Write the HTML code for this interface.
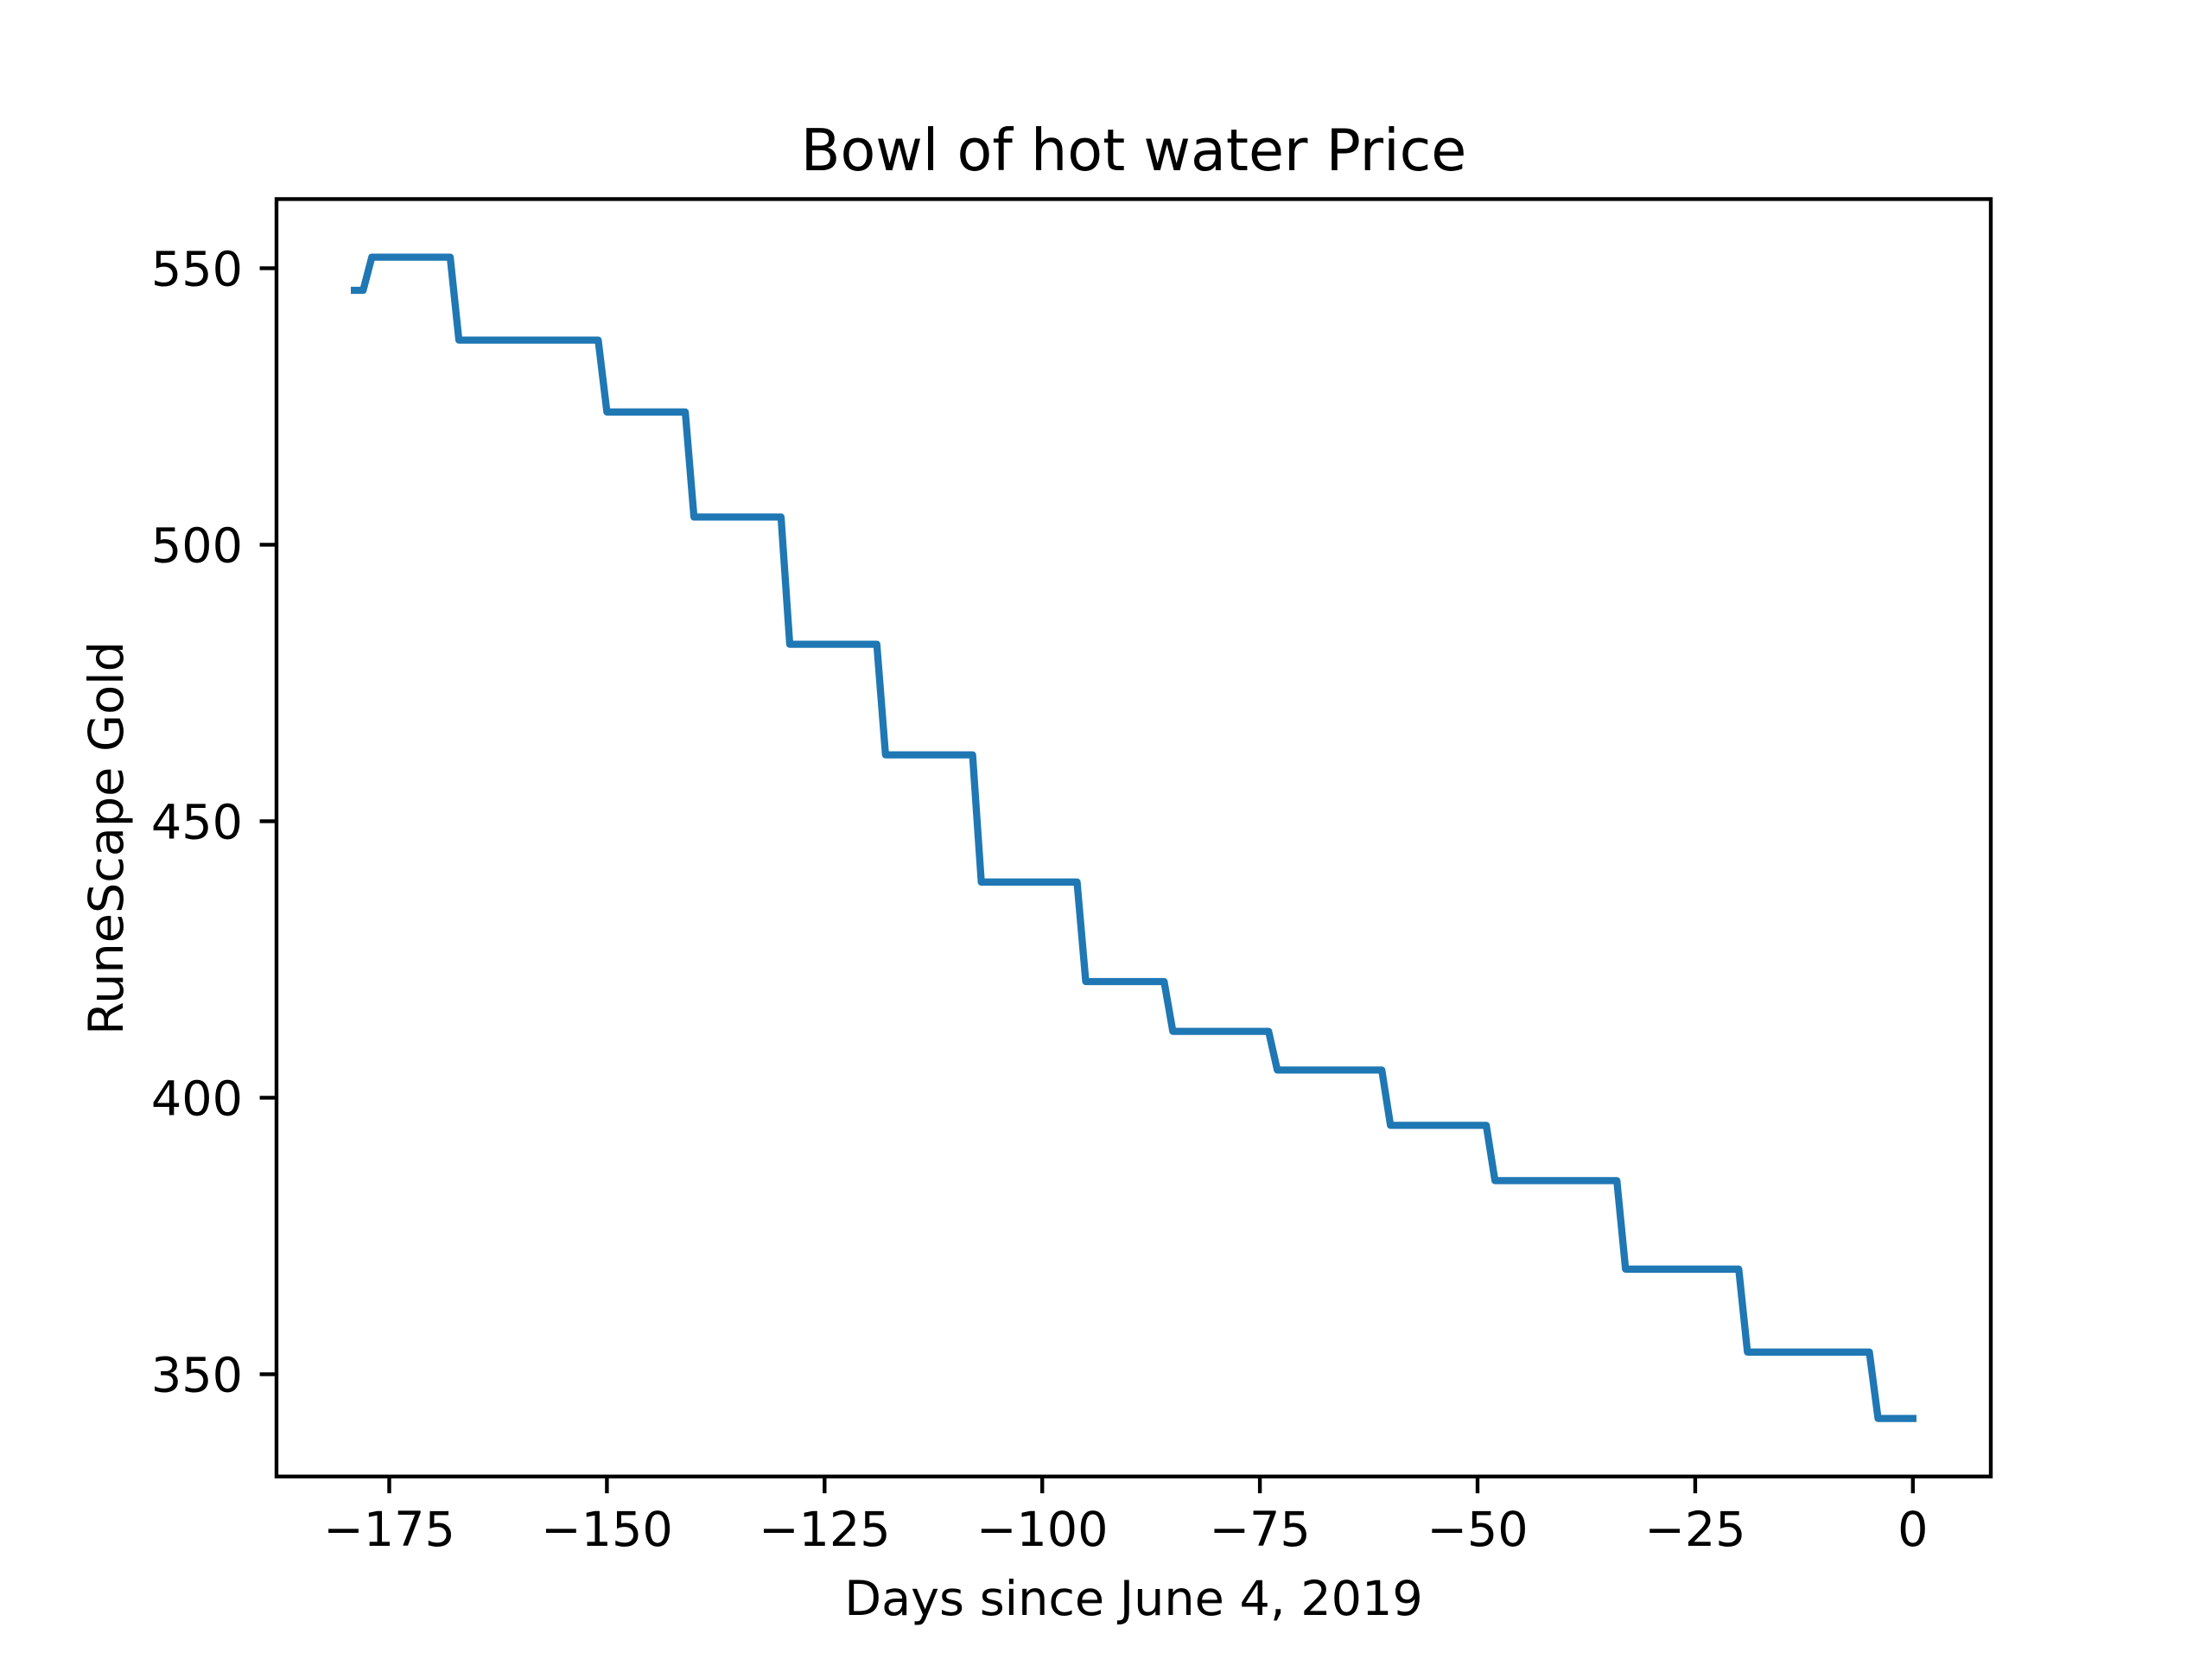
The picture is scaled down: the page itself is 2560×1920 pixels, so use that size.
<!DOCTYPE html>
<html><head><meta charset="utf-8"><style>
html,body{margin:0;padding:0;background:#fff;}
svg{display:block;font-family:"DejaVu Sans","Liberation Sans",sans-serif;}
</style></head><body>
<svg id="chart" width="2560" height="1920" viewBox="0 0 2560 1920" xmlns="http://www.w3.org/2000/svg">
<rect width="2560" height="1920" fill="#fff"/>
<text x="1312" y="197" font-size="66.7" text-anchor="middle">Bowl of hot water Price</text>
<g id="plot"></g>
<rect x="320" y="230.4" width="1984" height="1478.4" fill="none" stroke="#000" stroke-width="4.4"/>
<g id="xticks"></g><g id="yticks"></g>
<text x="1312" y="1869" font-size="55.6" text-anchor="middle">Days since June 4, 2019</text>
<text transform="translate(142,970) rotate(-90)" font-size="55.6" text-anchor="middle">RuneScape Gold</text>
</svg>
<script>
const days = [-179,-178,-177,-168,-167,-151,-150,-141,-140,-130,-129,-119,-118,-108,-107,-96,-95,-86,-85,-74,-73,-61,-60,-49,-48,-34,-33,-20,-19,-5,-4,0];
const prices = [546,546,552,552,537,537,524,524,505,505,482,482,462,462,439,439,421,421,412,412,405,405,395,395,385,385,369,369,354,354,342,342];
const xTickValues = [-175,-150,-125,-100,-75,-50,-25,0];
const xTickLabels = ["\u2212175","\u2212150","\u2212125","\u2212100","\u221275","\u221250","\u221225","0"];
const yTickValues = [350,400,450,500,550];
const yTickLabels = ["350","400","450","500","550"];

const NS="http://www.w3.org/2000/svg";
const L=320,R=2304,T=230.4,B=1708.8;
const xmin=Math.min(...days),xmax=Math.max(...days),xm=(xmax-xmin)*0.05;
const ymin=Math.min(...prices),ymax=Math.max(...prices),ym=(ymax-ymin)*0.05;
const X=v=>L+(v-(xmin-xm))/((xmax+xm)-(xmin-xm))*(R-L);
const Y=v=>B-(v-(ymin-ym))/((ymax+ym)-(ymin-ym))*(B-T);

const line=document.createElementNS(NS,'polyline');


line.setAttribute('points',days.map((d,i)=>X(d)+','+Y(prices[i])).join(' '));
line.setAttribute('fill','none');line.setAttribute('stroke','#1f77b4');
line.setAttribute('stroke-width','8.3');line.setAttribute('stroke-linejoin','round');
line.setAttribute('stroke-linecap','square');
document.getElementById('plot').appendChild(line);

const xg=document.getElementById('xticks');
xTickValues.forEach((v,i)=>{
  const t=document.createElementNS(NS,'line');
  
  
  t.setAttribute('x1',X(v));t.setAttribute('x2',X(v));t.setAttribute('y1',B);t.setAttribute('y2',B+19.4);
  t.setAttribute('stroke','#000');t.setAttribute('stroke-width','4.4');xg.appendChild(t);
  const s=document.createElementNS(NS,'text');
  
  
  s.setAttribute('x',X(v));s.setAttribute('y',B+80);s.setAttribute('font-size','55.6');s.setAttribute('text-anchor','middle');
  s.textContent=xTickLabels[i];xg.appendChild(s);
});
const yg=document.getElementById('yticks');
yTickValues.forEach((v,i)=>{
  const t=document.createElementNS(NS,'line');
  
  
  t.setAttribute('x1',L-19.4);t.setAttribute('x2',L);t.setAttribute('y1',Y(v));t.setAttribute('y2',Y(v));
  t.setAttribute('stroke','#000');t.setAttribute('stroke-width','4.4');yg.appendChild(t);
  const s=document.createElementNS(NS,'text');
  
  
  s.setAttribute('x',L-39);s.setAttribute('y',Y(v)+20);s.setAttribute('font-size','55.6');s.setAttribute('text-anchor','end');
  s.textContent=yTickLabels[i];yg.appendChild(s);
});
</script>
</body></html>
